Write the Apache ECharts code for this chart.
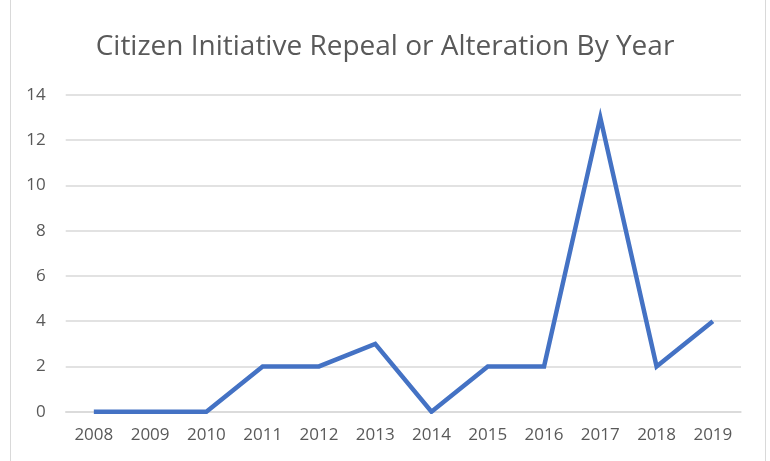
<!DOCTYPE html>
<html><head><meta charset="utf-8">
<script src="https://cdn.jsdelivr.net/npm/echarts@6/dist/echarts.min.js"></script>
<style>html,body{margin:0;padding:0;background:#fff}#c{width:770px;height:461px}</style>
</head><body><div id="c"></div>
<script>
const years = ['2008','2009','2010','2011','2012','2013','2014','2015','2016','2017','2018','2019'];
const counts = [0,0,0,2,2,3,0,2,2,13,2,4];
const yTicks = {min:0, max:14, interval:2};
const chart = echarts.init(document.getElementById('c'), null, {renderer:'canvas'});
chart.setOption({
  animation:false,
  backgroundColor:'#fff',
  title:{text:'Citizen Initiative Repeal or Alteration By Year', left:'center', top:28,
    textStyle:{color:'#595959', fontSize:28, fontWeight:'normal', fontFamily:'Open Sans'}},
  graphic:[
    {type:'line', shape:{x1:10.5,y1:0,x2:10.5,y2:461}, style:{stroke:'#d9d9d9', lineWidth:1}},
    {type:'line', shape:{x1:765.5,y1:0,x2:765.5,y2:461}, style:{stroke:'#d9d9d9', lineWidth:1}}
  ],
  grid:{left:65.7, right:29, top:95, bottom:49.3, containLabel:false},
  xAxis:{type:'category', data:years, boundaryGap:true,
    axisLine:{lineStyle:{color:'#d9d9d9', width:1.5}}, axisTick:{show:false},
    axisLabel:{color:'#595959', fontSize:17, fontFamily:'Open Sans', margin:15}},
  yAxis:{type:'value', min:yTicks.min, max:yTicks.max, interval:yTicks.interval,
    axisLine:{show:false}, axisTick:{show:false},
    splitLine:{lineStyle:{color:'#d9d9d9', width:1.5}},
    axisLabel:{color:'#595959', fontSize:17, fontFamily:'Open Sans', margin:20}},
  series:[{type:'line', data:counts, symbol:'none',
    lineStyle:{color:'#4472C4', width:4.5, join:'miter'}}]
});
</script></body></html>
